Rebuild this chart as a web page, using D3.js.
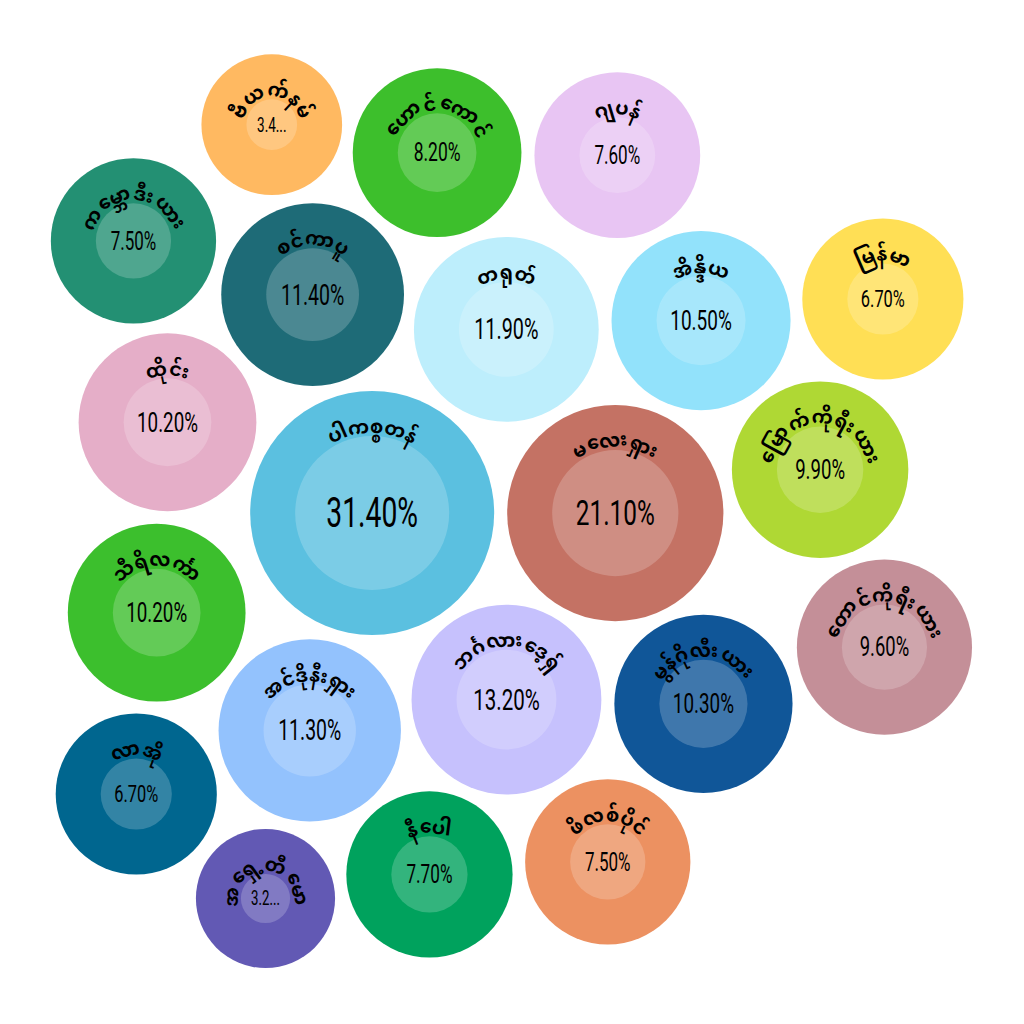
<!DOCTYPE html>
<html><head><meta charset="utf-8">
<script src="https://cdn.jsdelivr.net/npm/d3@7/dist/d3.min.js"></script>
<style>html,body{margin:0;padding:0;background:#fff}</style>
</head><body>
<svg id="chart" width="1024" height="1024"></svg>
<script>
// ---- data ----
const categories = ["ပါကစ္စတန်","မလေးရှား","ဘင်္ဂလားဒေ့ရှ်","တရုတ်","စင်ကာပူ","အင်ဒိုနီးရှား","အိန္ဒိယ","မွန်ဂိုလီးယား",
  "ထိုင်း","သီရိလင်္ကာ","မြောက်ကိုရီးယား","တောင်ကိုရီးယား","ဟောင်ကောင်","နီပေါ","ဂျပန်","ဖိလစ်ပိုင်","ကမ္ဘောဒီးယား",
  "မြန်မာ","လာအို","ဗီယက်နမ်","အရှေ့တီမော"];
const values = [31.4,21.1,13.2,11.9,11.4,11.3,10.5,10.3,
  10.2,10.2,9.9,9.6,8.2,7.7,7.6,7.5,7.5,
  6.7,6.7,3.4,3.2];
const colors = ["#5bc0e0","#c47264","#c6c1fd","#bdeefc","#1e6b77","#93c2fd","#92e2fb","#105698",
  "#e5aec8","#3cbf2d","#afd834","#c48f98","#3dbf2c","#00a25d","#e8c5f3","#ec9161","#239073",
  "#ffdf55","#00668f","#ffb961","#6259b4"];

const W = 1024, H = 1024;
const CX = 488, CY = 514; // centre of the packed cluster
const svg = d3.select("#chart");
const maxV = d3.max(values);
const innerR = d3.scaleSqrt().domain([0, maxV]).range([0, 77]);
const band = 45;
const fmt = v => d3.format(".2f")(v) + "%";
const nameFont = "'Noto Sans Myanmar','Noto Sans Myanmar UI','Padauk','Myanmar Text','Noto Sans',sans-serif";
const nameSize = 19;

const root = d3.hierarchy({children: categories.map((c, i) => ({name: c, value: values[i], color: colors[i]}))})
  .sum(d => d.value || 0)
  .sort((a, b) => b.value - a.value);
d3.pack().size([2 * CX, 2 * CY]).radius(d => innerR(d.value) + band).padding(13)(root);
const nodes = root.leaves();
nodes.forEach(n => n.ri = innerR(n.value));

const g = svg.selectAll("g.node").data(nodes).join("g").attr("class", "node");
g.append("circle").attr("cx", d => d.x).attr("cy", d => d.y).attr("r", d => d.r).attr("fill", d => d.data.color);
g.append("circle").attr("cx", d => d.x).attr("cy", d => d.y).attr("r", d => d.ri).attr("fill", "#fff").attr("fill-opacity", 0.2);

// curved names: split into grapheme clusters (keeping stacked consonants together) and lay them along an arc
const seg = (typeof Intl !== "undefined" && Intl.Segmenter) ? new Intl.Segmenter("my", {granularity: "grapheme"}) : null;
function clusters(s) {
  const raw = seg ? Array.from(seg.segment(s), x => x.segment) : Array.from(s);
  const out = [];
  raw.forEach(c => {
    if (out.length && (/\u1039$/.test(out[out.length - 1]) || /^[\u102B-\u103E\u1056-\u1059\u105E-\u1060\u1062-\u1064\u1067-\u106D\u1071-\u1074\u1082-\u108D\u108F\u109A-\u109D]/.test(c)))
      out[out.length - 1] += c;
    else out.push(c);
  });
  return out;
}
const meas = svg.append("text").attr("font-family", nameFont).attr("font-weight", "bold").attr("font-size", nameSize).attr("opacity", 0);
function width(s) { meas.text(s); return meas.node().getComputedTextLength(); }

g.each(function(d) {
  const parts = clusters(d.data.name);
  const ws = parts.map(width);
  const total = d3.sum(ws);
  const R = d.ri + 3;
  let s = -total / 2;
  const t = d3.select(this).append("g");
  parts.forEach((p, k) => {
    const mid = s + ws[k] / 2;
    s += ws[k];
    const th = mid / R;
    const px = d.x + R * Math.sin(th), py = d.y - R * Math.cos(th);
    t.append("text")
      .attr("transform", `translate(${px},${py}) rotate(${th * 180 / Math.PI})`)
      .attr("text-anchor", "middle")
      .attr("font-family", nameFont).attr("font-weight", "bold").attr("font-size", nameSize).attr("fill", "#000")
      .text(p);
  });
});
meas.remove();

g.append("text")
  .attr("transform", d => `translate(${d.x},${d.y}) scale(0.68,1)`)
  .attr("text-anchor", "middle").attr("dominant-baseline", "central")
  .attr("font-family", "Roboto, sans-serif").attr("font-weight", 400)
  .attr("font-size", d => (0.3 * d.ri + 6.5) / 0.711).attr("fill", "#000")
  .text(d => d.ri < 30 ? fmt(d.value).slice(0, 3) + "..." : fmt(d.value));
</script>
</body></html>
